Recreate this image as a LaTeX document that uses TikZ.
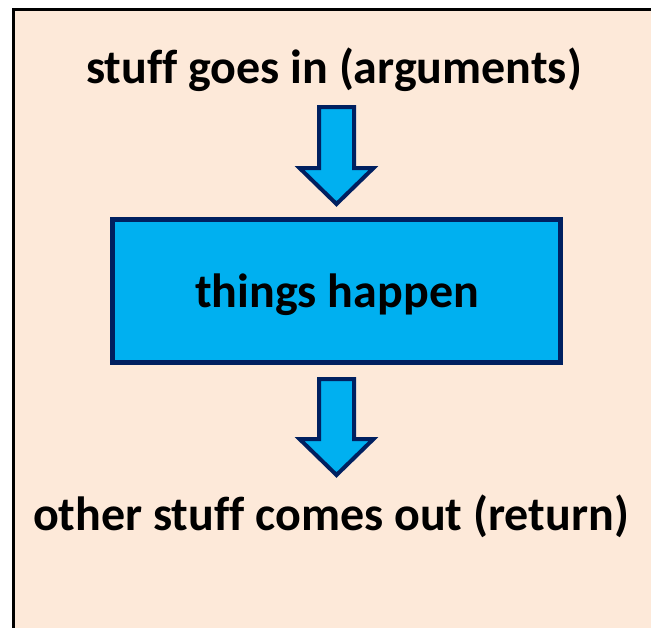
\documentclass[tikz,border=0pt]{standalone}
\usepackage{fontspec}
\setmainfont[Ligatures=CommonOff]{Carlito}
\definecolor{peach}{HTML}{FDE9D9}
\definecolor{boxblue}{HTML}{00B0F0}
\definecolor{navy}{HTML}{002060}
\begin{document}
\begin{tikzpicture}[x=1pt,y=-1pt,
  label text/.style={font=\bfseries\fontsize{48}{58}\selectfont, anchor=base, inner sep=0pt, text=black},
  blockarrow/.style={fill=boxblue, draw=navy, line width=4pt, line join=miter},
  mainbox/.style={fill=boxblue, draw=navy, line width=5pt}]
\useasboundingbox (0,0) rectangle (651,627);
\clip (0,0) rectangle (651,627);
\fill[white] (0,0) rectangle (651,627);
\draw[fill=peach, draw=black, line width=3pt] (13.5,9.5) rectangle (700,700);
% main box
\draw[mainbox] (112.5,219.5) rectangle (560.5,362.5);
\node[label text] (mid) at (337,307) {things happen};
% texts
\node[label text] (top) at (334,83) {stuff goes in (arguments)};
\node[label text] (bot) at (331,530) {other stuff comes out (return)};
% arrows
\draw[blockarrow] (319,107) -- (354,107) -- (354,168) -- (373.5,168) -- (336.5,204) -- (299.5,168) -- (319,168) -- cycle;
\draw[blockarrow] (319,379) -- (354,379) -- (354,439) -- (373.5,439) -- (336.5,475) -- (299.5,439) -- (319,439) -- cycle;
\end{tikzpicture}
\end{document}
